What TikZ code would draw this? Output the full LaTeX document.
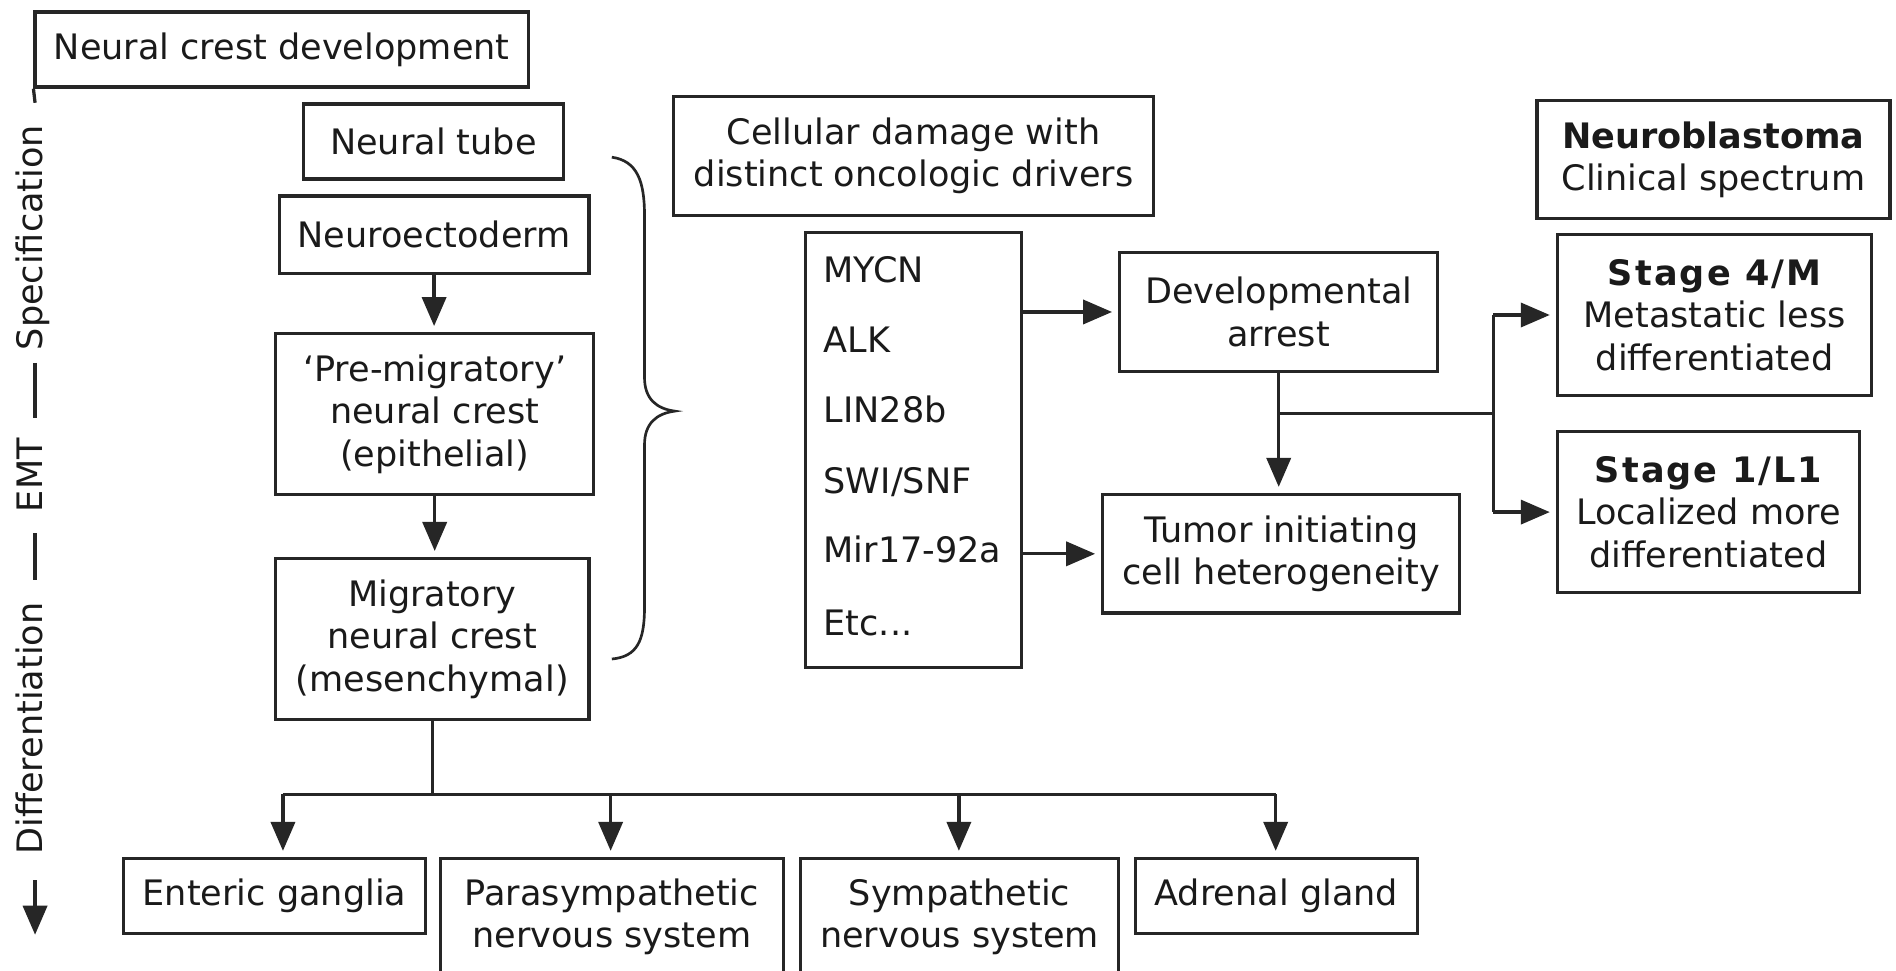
\documentclass[tikz,border=0pt]{standalone}
\usepackage{fontspec}
\setmainfont{DejaVu Sans}
\usetikzlibrary{arrows.meta}
\newcommand\mainfnt{\fontsize{29}{35}\selectfont}
\newcommand\stagefnt{\bfseries\addfontfeatures{LetterSpace=6}}
\definecolor{linecol}{HTML}{262626}
\definecolor{txtcol}{HTML}{1A1A1A}
\begin{document}
\begin{tikzpicture}[x=1pt,y=-1pt,
  box/.style={draw=linecol, line width=2.7pt, inner sep=0pt, align=center, font=\mainfnt, text=txtcol},
  conn/.style={draw=linecol, line width=2.7pt},
  arr/.style={conn, -{Triangle[length=24pt,width=20pt]}, shorten >=5pt},
  arrns/.style={conn, -{Triangle[length=24pt,width=20pt]}},
  lbl/.style={font=\mainfnt, text=txtcol, inner sep=0pt}
]
\useasboundingbox[fill=white] (0,0) rectangle (1568,803);

% left column
\node[box, minimum width=408pt, minimum height=62pt] (ncd) at (233,41) {Neural crest development};
\node[box, minimum width=215pt, minimum height=62pt] (nt) at (358.5,117) {Neural tube};
\node[box, minimum width=256pt, minimum height=64pt] (ne) at (359,194) {Neuroectoderm};
\node[box, minimum width=263pt, minimum height=133pt] (pm) at (359.5,342.5) {`Pre-migratory'\\neural crest\\(epithelial)};
\node[box, minimum width=259pt, minimum height=133pt] (mig) at (357.5,528.5) {Migratory\\neural crest\\(mesenchymal)};

% bottom row
\node[box, minimum width=250pt, minimum height=62pt] (ent) at (227,741) {Enteric ganglia};
\node[box, minimum width=284pt, minimum height=96pt] (para) at (506,758) {Parasympathetic\\nervous system};
\node[box, minimum width=263pt, minimum height=96pt] (symp) at (793.5,758) {Sympathetic\\nervous system};
\node[box, minimum width=233pt, minimum height=62pt] (adr) at (1055.5,741) {Adrenal gland};

% middle
\node[box, minimum width=397pt, minimum height=98pt] (cell) at (755.5,129) {Cellular damage with\\distinct oncologic drivers};
\node[box, minimum width=179pt, minimum height=360pt] (genes) at (755.5,372) {};
\node[lbl, anchor=base west] (g1) at (681,233.5) {MYCN};
\node[lbl, anchor=base west] (g2) at (681,291.5) {ALK};
\node[lbl, anchor=base west] (g3) at (681,349.5) {LIN28b};
\node[lbl, anchor=base west] (g4) at (681,408.5) {SWI/SNF};
\node[lbl, anchor=base west] (g5) at (681,465.5) {Mir17-92a};
\node[lbl, anchor=base west] (g6) at (681,525.5) {Etc...};
\node[box, minimum width=263pt, minimum height=98pt] (dev) at (1057.5,258) {Developmental\\arrest};
\node[box, minimum width=295pt, minimum height=98pt] (tum) at (1059.5,458) {Tumor initiating\\cell heterogeneity};

% right
\node[box, minimum width=292pt, minimum height=98pt] (nb) at (1417,132) {\textbf{Neuroblastoma}\\Clinical spectrum};
\node[box, minimum width=260pt, minimum height=133pt] (s4) at (1418,260.5) {{\stagefnt Stage 4/M}\\Metastatic less\\differentiated};
\node[box, minimum width=250pt, minimum height=133pt] (s1) at (1413,423.5) {{\stagefnt Stage 1/L1}\\Localized more\\differentiated};

% axis
\node[lbl, rotate=90, anchor=base] (spec) at (35,196.5) {Specification};
\node[lbl, rotate=90, anchor=base] (emt) at (35,393) {EMT};
\node[lbl, rotate=90, anchor=base] (diff) at (35,602.5) {Differentiation};
\coordinate (a1) at (29,85);
\coordinate (a2) at (29,300);
\coordinate (a3) at (29,346);
\coordinate (a4) at (29,441);
\coordinate (a5) at (29,480);
\coordinate (a6) at (29,728);
\coordinate (a7) at (29,773);
\draw[conn] (ncd.south west) -- (a1);
\draw[conn] (a2) -- (a3);
\draw[conn] (a4) -- (a5);
\draw[arrns] (a6) -- (a7);

% brace
\draw[draw=linecol, line width=2.2pt] (506,130) .. controls (527,133) and (533,150) .. (533,178)
  -- (533,312) .. controls (533,330) and (543,338) .. (558,340)
  .. controls (543,342) and (533,350) .. (533,368)
  -- (533,502) .. controls (533,530) and (527,543) .. (506,545);

% left column arrows
\draw[arr] (ne.south) -- (ne.south |- pm.north);
\draw[arr] (pm.south) -- (pm.south |- mig.north);
\coordinate (hub) at (357.5,657);
\coordinate (b1) at (234,657);
\coordinate (b2) at (505,657);
\coordinate (b3) at (793,657);
\coordinate (b4) at (1055,657);
\draw[conn] (mig.south) -- (hub);
\draw[conn] (b1) -- (b4);
\draw[arr] (b1) -- (b1 |- ent.north);
\draw[arr] (b2) -- (b2 |- para.north);
\draw[arr] (b3) -- (b3 |- symp.north);
\draw[arr] (b4) -- (b4 |- adr.north);

% middle arrows
\draw[arr] (genes.east |- dev.west) -- (dev.west);
\draw[arr] (genes.east |- tum.west) -- (tum.west);
\draw[arr] (dev.south) -- (dev.south |- tum.north);
\coordinate (j1) at (1057.5,342);
\coordinate (j2) at (1235,342);
\draw[conn] (j1) -- (j2);
\draw[conn] (j2 |- s4.west) -- (j2 |- s1.west);
\draw[arr] (j2 |- s4.west) -- (s4.west);
\draw[arr] (j2 |- s1.west) -- (s1.west);
\end{tikzpicture}
\end{document}
